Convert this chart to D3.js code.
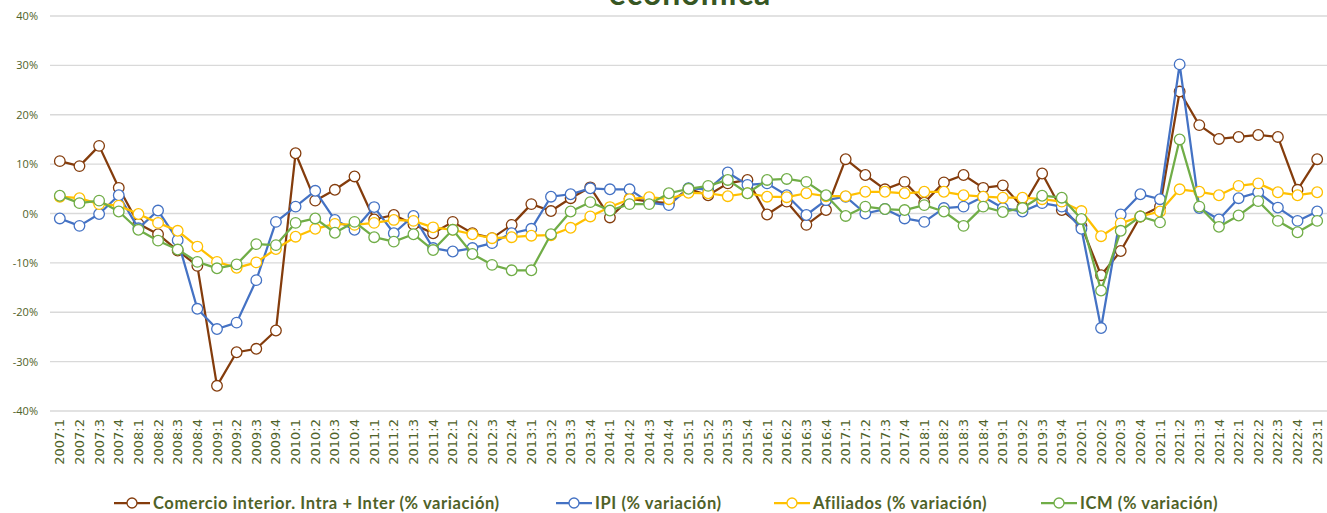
<!DOCTYPE html>
<html>
<head>
<meta charset="utf-8">
<script src="https://cdn.jsdelivr.net/npm/d3@7"></script>
<style>
  html, body { margin: 0; padding: 0; background: #fff; }
  svg { display: block; }
</style>
</head>
<body>
<svg id="chart" width="1327" height="513"></svg>
<script>
// Quarterly periods 2007:1 … 2023:1
const periods = [];
for (let y = 2007; y <= 2023; y++) {
  for (let q = 1; q <= 4; q++) {
    if (y === 2023 && q > 1) break;
    periods.push(y + ":" + q);
  }
}

const yTicks = [-40, -30, -20, -10, 0, 10, 20, 30, 40];

// Year-on-year % change
const comercio = [10.6, 9.6, 13.7, 5.2, -2.1, -4.2, -7.5, -10.6, -34.9, -28.1, -27.4, -23.7,
  12.2, 2.6, 4.8, 7.5, -1.2, -0.3, -2.2, -4.0, -1.7, -4.0, -5.0, -2.3,
  1.9, 0.5, 3.1, 5.3, -0.8, 3.0, 2.4, 2.1, 5.0, 3.7, 6.1, 6.8,
  -0.2, 2.4, -2.3, 0.7, 11.0, 7.8, 4.9, 6.4, 2.2, 6.3, 7.8, 5.2,
  5.7, 1.3, 8.1, 0.7, -2.5, -12.5, -7.6, -0.6, 1.4, 24.7, 17.9, 15.1,
  15.5, 15.9, 15.5, 4.8, 11.0];

const ipi = [-1.0, -2.5, -0.1, 3.7, -3.0, 0.6, -5.4, -19.3, -23.4, -22.1, -13.5, -1.7,
  1.4, 4.6, -1.3, -3.3, 1.3, -4.0, -0.5, -7.0, -7.7, -7.0, -6.0, -4.0,
  -3.1, 3.4, 3.9, 5.1, 4.9, 4.9, 2.2, 1.7, 5.1, 4.9, 8.3, 5.8,
  6.1, 3.7, -0.3, 2.7, 3.4, 0.0, 0.9, -1.0, -1.7, 1.1, 1.4, 3.4,
  1.1, 0.4, 2.1, 1.4, -3.1, -23.2, -0.2, 3.9, 2.9, 30.2, 1.1, -1.2,
  3.1, 4.3, 1.2, -1.5, 0.4];

const afiliados = [3.4, 3.1, 1.9, 1.6, -0.1, -1.9, -3.5, -6.7, -9.8, -11.0, -9.9, -7.2,
  -4.7, -3.1, -2.1, -2.3, -1.9, -1.3, -1.5, -2.8, -3.3, -4.2, -5.0, -4.8,
  -4.5, -4.4, -2.9, -0.6, 1.3, 2.9, 3.3, 2.9, 4.2, 4.1, 3.5, 4.1,
  3.4, 3.3, 4.1, 3.5, 3.5, 4.4, 4.4, 4.1, 4.4, 4.4, 3.7, 3.4,
  3.2, 3.2, 2.9, 2.4, 0.5, -4.6, -2.0, -0.6, 0.4, 4.9, 4.4, 3.7,
  5.6, 6.1, 4.3, 3.7, 4.3];

const icm = [3.6, 2.1, 2.6, 0.4, -3.3, -5.5, -7.3, -9.8, -11.1, -10.3, -6.2, -6.4,
  -1.9, -1.0, -3.9, -1.7, -4.8, -5.7, -4.2, -7.4, -3.3, -8.2, -10.4, -11.5,
  -11.5, -4.2, 0.4, 2.3, 0.6, 1.9, 1.9, 4.1, 5.0, 5.6, 6.8, 4.1,
  6.8, 7.0, 6.4, 3.7, -0.5, 1.4, 0.9, 0.7, 1.7, 0.4, -2.5, 1.4,
  0.3, 1.1, 3.6, 3.2, -1.1, -15.6, -3.5, -0.6, -1.8, 15.0, 1.4, -2.7,
  -0.4, 2.5, -1.5, -3.8, -1.5];

const seriesNames = [
  "Comercio interior. Intra + Inter (% variación)",
  "IPI (% variación)",
  "Afiliados (% variación)",
  "ICM (% variación)"
];
const seriesColors = ["#843c0c", "#4472c4", "#ffc000", "#70ad47"];
const seriesValues = [comercio, ipi, afiliados, icm];

const textColor = "#4f6228";
const fontFamily = "Lato, 'Open Sans', sans-serif";

const svg = d3.select("#chart");
const margin = { left: 50, right: 0, top: 16, bottom: 102 };
const W = 1327, H = 513;

const x = d3.scaleBand()
  .domain(periods)
  .range([margin.left, W - margin.right]);

const y = d3.scaleLinear()
  .domain([-40, 40])
  .range([411, 16]);

// Title (second line of the heading)
svg.append("text")
  .attr("x", 690)
  .attr("y", 5)
  .attr("text-anchor", "middle")
  .attr("font-family", fontFamily)
  .attr("font-weight", "bold")
  .attr("font-size", 32)
  .attr("letter-spacing", 1)
  .attr("fill", "#375623")
  .text("económica");

// Horizontal gridlines
svg.append("g")
  .selectAll("line")
  .data(yTicks)
  .join("line")
  .attr("x1", margin.left)
  .attr("x2", W)
  .attr("y1", d => y(d))
  .attr("y2", d => y(d))
  .attr("stroke", "#d9d9d9")
  .attr("stroke-width", 1.3);

// Y axis labels
const yAxis = d3.axisLeft(y)
  .tickValues(yTicks)
  .tickFormat(d => d + "%")
  .tickSize(0)
  .tickPadding(12);
const gy = svg.append("g")
  .attr("transform", `translate(${margin.left},0)`)
  .call(yAxis);
gy.select(".domain").remove();
gy.selectAll("text")
  .attr("font-family", "'Open Sans', sans-serif")
  .attr("font-size", 11)
  .attr("fill", textColor);

// X axis labels, rotated
const xAxis = d3.axisBottom(x).tickSize(0).tickPadding(0);
const gx = svg.append("g")
  .attr("transform", `translate(0,${y(-40)})`)
  .call(xAxis);
gx.select(".domain").remove();
gx.selectAll("text")
  .attr("font-family", "'DejaVu Sans', sans-serif")
  .attr("font-size", 13)
  .attr("fill", textColor)
  .attr("text-anchor", "end")
  .attr("dy", "0.35em")
  .attr("transform", "translate(0,8) rotate(-90)")
  .attr("x", 0)
  .attr("y", 0);

// Lines and markers
const line = d3.line()
  .x((d, i) => x(periods[i]) + x.bandwidth() / 2)
  .y(d => y(d));

seriesValues.forEach((vals, s) => {
  const g = svg.append("g");
  g.append("path")
    .datum(vals)
    .attr("fill", "none")
    .attr("stroke", seriesColors[s])
    .attr("stroke-width", 2.25)
    .attr("stroke-linejoin", "round")
    .attr("d", line);
  g.selectAll("circle")
    .data(vals)
    .join("circle")
    .attr("cx", (d, i) => x(periods[i]) + x.bandwidth() / 2)
    .attr("cy", d => y(d))
    .attr("r", 5.3)
    .attr("fill", "#fff")
    .attr("stroke", seriesColors[s])
    .attr("stroke-width", 1.3);
});

// Legend
const legendX = [114, 556, 774, 1041];
const legend = svg.append("g")
  .attr("transform", "translate(0,503)");
seriesNames.forEach((name, s) => {
  const lg = legend.append("g").attr("transform", `translate(${legendX[s]},0)`);
  lg.append("line")
    .attr("x1", 0).attr("x2", 36)
    .attr("y1", 0).attr("y2", 0)
    .attr("stroke", seriesColors[s])
    .attr("stroke-width", 2.25);
  lg.append("circle")
    .attr("cx", 18).attr("cy", 0).attr("r", 5)
    .attr("fill", "#fff")
    .attr("stroke", seriesColors[s])
    .attr("stroke-width", 1.3);
  lg.append("text")
    .attr("x", 39)
    .attr("y", 0)
    .attr("dy", "0.35em")
    .attr("font-family", fontFamily)
    .attr("font-weight", "bold")
    .attr("font-size", 16.5)
    .attr("letter-spacing", 0.6)
    .attr("fill", textColor)
    .text(name);
});
</script>
</body>
</html>
